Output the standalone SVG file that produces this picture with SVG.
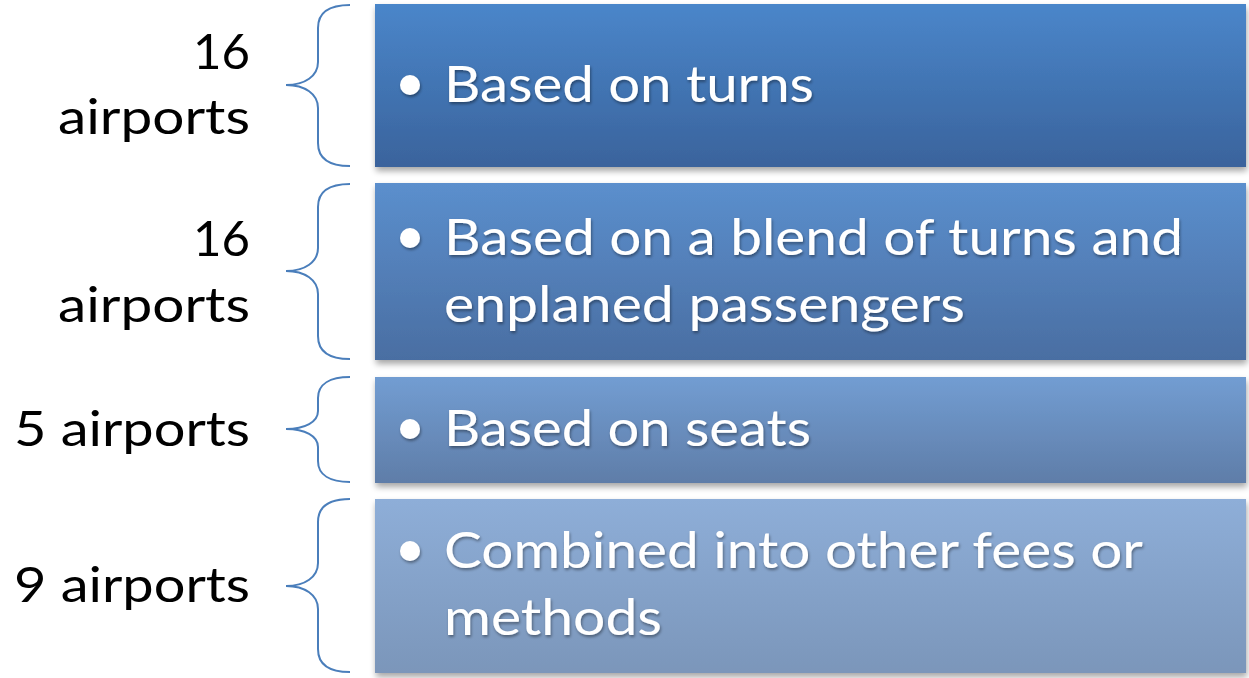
<svg xmlns="http://www.w3.org/2000/svg" width="1249" height="678" viewBox="0 0 1249 678">
<defs>
<linearGradient id="g1" x1="0" y1="0" x2="0" y2="1"><stop offset="0" stop-color="#4A86CA"/><stop offset="1" stop-color="#3A639C"/></linearGradient>
<linearGradient id="g2" x1="0" y1="0" x2="0" y2="1"><stop offset="0" stop-color="#5B8FCD"/><stop offset="1" stop-color="#4A6EA2"/></linearGradient>
<linearGradient id="g3" x1="0" y1="0" x2="0" y2="1"><stop offset="0" stop-color="#729DD2"/><stop offset="1" stop-color="#5F7DA8"/></linearGradient>
<linearGradient id="g4" x1="0" y1="0" x2="0" y2="1"><stop offset="0" stop-color="#8EAED8"/><stop offset="1" stop-color="#7B96BA"/></linearGradient>
<filter id="sh" x="-5%" y="-10%" width="110%" height="130%"><feGaussianBlur in="SourceAlpha" stdDeviation="3"/><feOffset dx="1" dy="4" result="b"/><feComponentTransfer><feFuncA type="linear" slope="0.35"/></feComponentTransfer><feMerge><feMergeNode/><feMergeNode in="SourceGraphic"/></feMerge></filter>
<filter id="ts" x="-5%" y="-20%" width="110%" height="150%"><feGaussianBlur in="SourceAlpha" stdDeviation="1.5"/><feOffset dx="1" dy="2"/><feComponentTransfer><feFuncA type="linear" slope="0.4"/></feComponentTransfer><feMerge><feMergeNode/><feMergeNode in="SourceGraphic"/></feMerge></filter>
</defs>
<style>
.box{filter:url(#sh)}
.bt{font-family:Lato,"Open Sans",sans-serif;font-size:51px;fill:#fff}
.lb{font-family:Lato,"Open Sans",sans-serif;font-size:49px;fill:#000;text-anchor:end}
.br{fill:none;stroke:#4A7EBB;stroke-width:2}
.dot{fill:#fff}
</style>
<g id="connectors">
<path class="br" d="M350,5 C330,5 318,12 318,28 L318,62 C318,76 305,85 286,85 C305,85 318,94 318,108 L318,143 C318,159 330,166 350,166"/>
<path class="br" d="M350,184 C330,184 318,191 318,207 L318,248 C318,262 305,271 286,271 C305,271 318,280 318,294 L318,336 C318,352 330,359 350,359"/>
<path class="br" d="M350,377 C330,377 318,384 318,398 L318,411 C318,422 305,429 286,429 C305,429 318,436 318,447 L318,461 C318,475 330,482 350,482"/>
<path class="br" d="M350,499 C330,499 318,506 318,522 L318,563 C318,577 305,586 286,586 C305,586 318,595 318,609 L318,649 C318,665 330,672 350,672"/>
</g>
<g id="node1">
<rect class="box" x="375" y="4" width="871" height="163" fill="url(#g1)"/>
<g filter="url(#ts)"><circle class="dot" cx="410" cy="85" r="10"/>
<text class="bt" x="444" y="102" textLength="370" lengthAdjust="spacingAndGlyphs">Based on turns</text></g>
<text class="lb" x="250" y="69" textLength="57" lengthAdjust="spacingAndGlyphs">16</text>
<text class="lb" x="250" y="134" textLength="192" lengthAdjust="spacingAndGlyphs">airports</text>
</g>
<g id="node2">
<rect class="box" x="375" y="183" width="871" height="177" fill="url(#g2)"/>
<g filter="url(#ts)"><circle class="dot" cx="410" cy="238" r="10"/>
<text class="bt" x="444" y="255" textLength="739" lengthAdjust="spacingAndGlyphs">Based on a blend of turns and</text>
<text class="bt" x="444" y="322" textLength="521" lengthAdjust="spacingAndGlyphs">enplaned passengers</text></g>
<text class="lb" x="250" y="256" textLength="57" lengthAdjust="spacingAndGlyphs">16</text>
<text class="lb" x="250" y="322" textLength="192" lengthAdjust="spacingAndGlyphs">airports</text>
</g>
<g id="node3">
<rect class="box" x="375" y="377" width="871" height="106" fill="url(#g3)"/>
<g filter="url(#ts)"><circle class="dot" cx="410" cy="429" r="10"/>
<text class="bt" x="444" y="446" textLength="367" lengthAdjust="spacingAndGlyphs">Based on seats</text></g>
<text class="lb" x="250" y="446" textLength="236" lengthAdjust="spacingAndGlyphs">5 airports</text>
</g>
<g id="node4">
<rect class="box" x="375" y="499" width="871" height="174" fill="url(#g4)"/>
<g filter="url(#ts)"><circle class="dot" cx="410" cy="551" r="10"/>
<text class="bt" x="444" y="568" textLength="699" lengthAdjust="spacingAndGlyphs">Combined into other fees or</text>
<text class="bt" x="444" y="635" textLength="218" lengthAdjust="spacingAndGlyphs">methods</text></g>
<text class="lb" x="250" y="602" textLength="236" lengthAdjust="spacingAndGlyphs">9 airports</text>
</g>
</svg>
